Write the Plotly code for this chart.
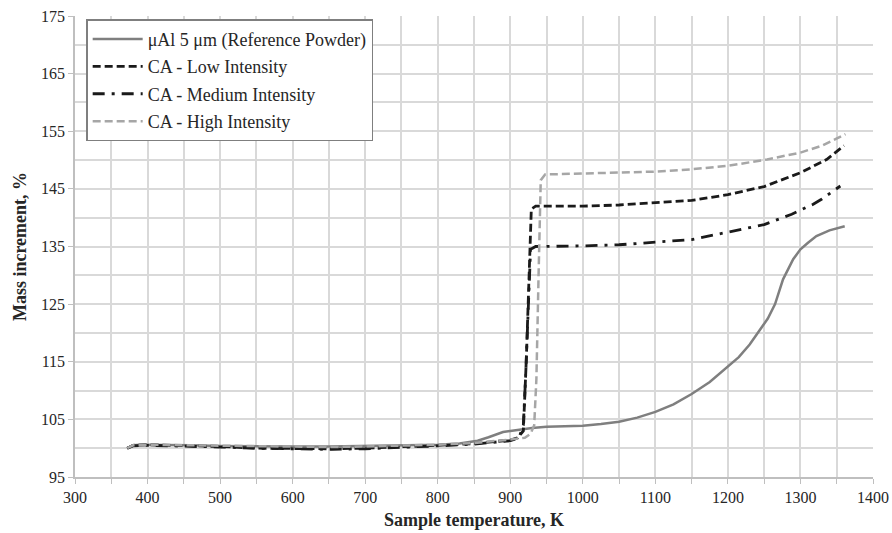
import plotly.graph_objects as go

# Reference powder (solid gray)
x_ref = [372, 380, 390, 420, 460, 500, 550, 600, 650, 700, 750, 800, 830, 855, 870, 880, 890, 900, 915,
         930, 950, 975, 1000, 1025, 1050, 1075, 1100, 1125, 1150, 1175, 1200, 1215, 1230, 1245, 1255,
         1265, 1276, 1290, 1300, 1310, 1322, 1340, 1361]
y_ref = [100.0, 100.5, 100.6, 100.6, 100.5, 100.4, 100.3, 100.3, 100.3, 100.4, 100.5, 100.6, 100.8, 101.3,
         101.9, 102.4, 102.8, 103.0, 103.3, 103.5, 103.7, 103.8, 103.9, 104.2, 104.6, 105.3, 106.3, 107.6,
         109.4, 111.5, 114.1, 115.8, 118.0, 120.7, 122.5, 125.0, 129.3, 132.8, 134.5, 135.6, 136.8, 137.8, 138.5]

# CA - Low Intensity
x_low = [372, 380, 400, 450, 500, 550, 600, 650, 700, 750, 800, 850, 880, 900, 910, 918, 922, 926, 929,
         935, 960, 1000, 1050, 1100, 1150, 1200, 1250, 1300, 1336, 1360]
y_low = [100.0, 100.5, 100.6, 100.5, 100.3, 100.0, 99.9, 99.9, 100.0, 100.2, 100.5, 100.8, 101.2, 101.4,
         101.8, 103.0, 115.0, 130.0, 141.5, 142.0, 142.0, 142.0, 142.2, 142.6, 143.0, 144.0, 145.4, 147.8,
         150.1, 152.5]

# CA - Medium Intensity
x_med = [372, 380, 400, 450, 500, 550, 600, 650, 700, 750, 800, 850, 880, 900, 912, 918, 921, 925, 928,
         935, 960, 1000, 1050, 1100, 1150, 1200, 1250, 1288, 1317, 1329, 1355]
y_med = [100.0, 100.4, 100.5, 100.4, 100.2, 100.0, 99.9, 99.8, 99.9, 100.1, 100.4, 100.7, 101.0, 101.3,
         101.8, 104.0, 112.0, 125.0, 134.5, 135.0, 135.0, 135.1, 135.3, 135.7, 136.2, 137.5, 138.8, 140.6,
         142.3, 143.2, 145.5]

# CA - High Intensity
x_high = [372, 380, 400, 450, 500, 550, 600, 650, 700, 750, 800, 850, 880, 900, 920, 928, 933, 936, 939,
          942, 948, 975, 1024, 1100, 1150, 1200, 1254, 1300, 1330, 1362]
y_high = [100.0, 100.5, 100.6, 100.5, 100.4, 100.3, 100.2, 100.2, 100.3, 100.4, 100.6, 100.9, 101.2, 101.5,
          101.8, 102.5, 104.0, 112.0, 130.0, 146.5, 147.5, 147.6, 147.8, 148.0, 148.4, 149.0, 150.1, 151.3,
          152.5, 154.5]

names = ["\u03bcAl 5 \u03bcm (Reference Powder)", "CA - Low Intensity",
         "CA - Medium Intensity", "CA - High Intensity"]

FONT = "Liberation Serif"

fig = go.Figure()
fig.add_trace(go.Scatter(x=x_ref, y=y_ref, mode="lines", name=names[0], legendgroup="a",
                         line=dict(color="#7f7f7f", width=2.5)))
fig.add_trace(go.Scatter(x=x_low, y=y_low, mode="lines", name=names[1], legendgroup="b",
                         line=dict(color="#1a1a1a", width=2.8, dash="8px,4px")))
fig.add_trace(go.Scatter(x=x_med, y=y_med, mode="lines", name=names[2], legendgroup="c",
                         line=dict(color="#1a1a1a", width=2.8, dash="12px,7px,3px,7px")))
fig.add_trace(go.Scatter(x=x_high, y=y_high, mode="lines", name=names[3], legendgroup="d",
                         line=dict(color="#a6a6a6", width=2.5, dash="8px,4px")))

fig.update_layout(
    width=892, height=533,
    margin=dict(l=75, r=19, t=16, b=56),
    paper_bgcolor="white", plot_bgcolor="white",
    font=dict(family=FONT, size=16, color="#262626"),
    showlegend=True,
    legend=dict(x=0.014, y=0.993, xanchor="left", yanchor="top",
                bgcolor="white", bordercolor="#7f7f7f", borderwidth=1.5,
                font=dict(family=FONT, size=18, color="#262626"),
                traceorder="grouped", tracegroupgap=1, itemwidth=50,
                entrywidth=262, entrywidthmode="pixels"),
    xaxis=dict(range=[300, 1400], dtick=100, tick0=300, automargin=False,
               showgrid=True, gridcolor="#d9d9d9", gridwidth=1.5,
               showline=True, linecolor="#bfbfbf", linewidth=1.5,
               ticks="outside", ticklen=5, tickcolor="#bfbfbf",
               minor=dict(dtick=50, showgrid=True, gridcolor="#d9d9d9", gridwidth=1.5,
                          ticks="outside", ticklen=5, tickcolor="#bfbfbf"),
               zeroline=False,
               tickfont=dict(family=FONT, size=16, color="#262626"),
               title=dict(text="<b>Sample temperature, K</b>", standoff=8,
                          font=dict(family=FONT, size=18, color="#262626"))),
    yaxis=dict(range=[95, 175], dtick=10, tick0=95, automargin=False,
               showgrid=True, gridcolor="#d9d9d9", gridwidth=1.5,
               showline=True, linecolor="#bfbfbf", linewidth=1.5,
               ticks="outside", ticklen=5, tickcolor="#bfbfbf",
               minor=dict(dtick=5, showgrid=True, gridcolor="#d9d9d9", gridwidth=1.5),
               zeroline=False,
               tickfont=dict(family=FONT, size=16, color="#262626"),
               title=dict(text="<b>Mass increment, %</b>", standoff=10,
                          font=dict(family=FONT, size=18, color="#262626"))),
)

fig.write_html("out.html")
